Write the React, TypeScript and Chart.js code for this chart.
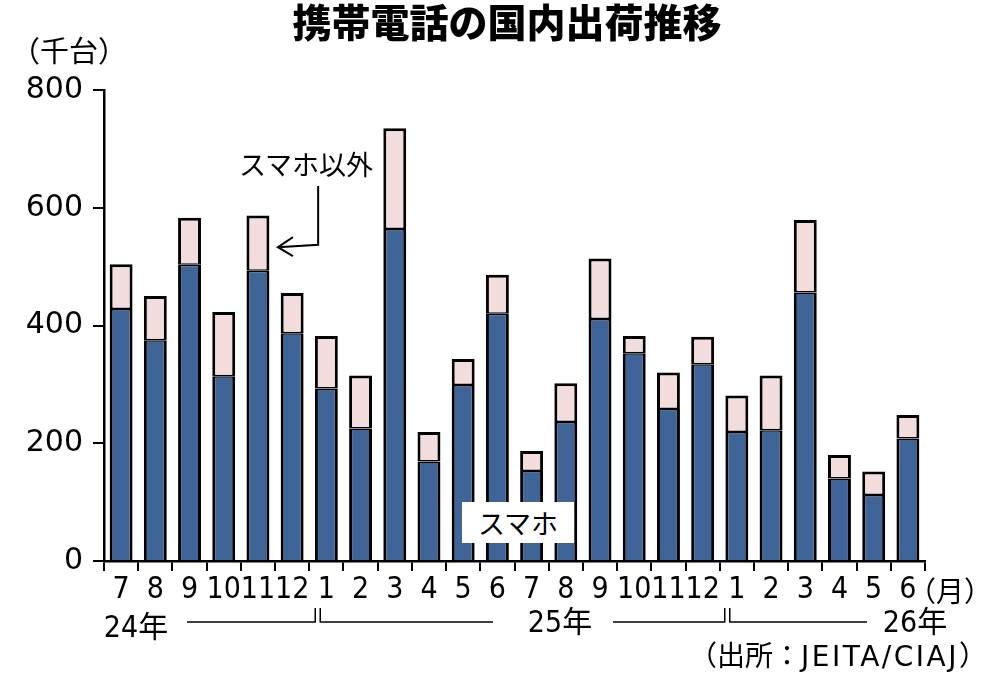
import { useEffect, useRef } from "react";
import { Chart, registerables } from "chart.js";

Chart.register(...registerables);

// months from 2024/7 to 2026/6
const months = ["7", "8", "9", "10", "11", "12", "1", "2", "3", "4", "5", "6", "7", "8", "9", "10", "11", "12", "1", "2", "3", "4", "5", "6"];
// thousand units
const smartphone = [428, 375, 503, 314, 493, 387, 293, 225, 564, 169, 299, 420, 153, 236, 411, 353, 258, 334, 219, 222, 456, 140, 112, 208];
const total = [504, 450, 583, 423, 587, 455, 382, 315, 735, 219, 343, 486, 187, 302, 514, 382, 320, 381, 281, 315, 579, 180, 152, 248];
const others = total.map((t, i) => t - smartphone[i]);
const yTicks = [0, 200, 400, 600, 800];

const FONT = "'DejaVu Sans', 'Noto Sans CJK JP', sans-serif";
const COND = "'DejaVu Sans Condensed', 'DejaVu Sans', 'Noto Sans CJK JP', sans-serif";
const JP = "'Noto Sans CJK JP', sans-serif";

// arrow from the "スマホ以外" label + year brackets under the axis
const annotations = {
  id: "annotations",
  afterDraw(chart: any) {
    const { ctx } = chart;
    const x = chart.scales.x;
    const y = chart.scales.y;
    ctx.save();
    ctx.strokeStyle = "#000";
    ctx.lineWidth = 2;

    const tipX = x.getPixelForValue(4) + 20;
    const tipY = y.getPixelForValue(533);
    const cornerX = x.getPixelForValue(5) + 26;
    const cornerY = y.getPixelForValue(537);
    const topY = y.getPixelForValue(637);
    ctx.beginPath();
    ctx.moveTo(cornerX, topY);
    ctx.lineTo(cornerX, cornerY);
    ctx.lineTo(tipX, tipY);
    ctx.stroke();
    ctx.beginPath();
    ctx.moveTo(tipX + 15, tipY - 10);
    ctx.lineTo(tipX, tipY);
    ctx.lineTo(tipX + 15, tipY + 9);
    ctx.stroke();

    ctx.lineWidth = 1.5;
    const lineY = y.bottom + 61;
    const tickTop = lineY - 14;
    const b1 = (x.getPixelForValue(5) + x.getPixelForValue(6)) / 2;
    const b2 = (x.getPixelForValue(17) + x.getPixelForValue(18)) / 2;
    const seg = (pts: number[][]) => {
      ctx.beginPath();
      ctx.moveTo(pts[0][0], pts[0][1]);
      for (let i = 1; i < pts.length; i++) ctx.lineTo(pts[i][0], pts[i][1]);
      ctx.stroke();
    };
    seg([[187, lineY], [b1 + 6, lineY], [b1 + 6, tickTop]]);
    seg([[b1 + 11, tickTop], [b1 + 11, lineY], [493, lineY]]);
    seg([[613, lineY], [b2 + 5, lineY], [b2 + 5, tickTop]]);
    seg([[b2 + 10, tickTop], [b2 + 10, lineY], [867, lineY]]);
    ctx.restore();
  },
};

type TextProps = {
  children: any;
  x: number;
  y: number;
  size: number;
  family?: string;
  weight?: number;
  anchor?: string;
};

function Text(props: TextProps) {
  const { children, x, y, size, family = FONT, weight = 400, anchor = "center" } = props;
  const tx = anchor === "center" ? "-50%" : anchor === "right" ? "-100%" : "0";
  return (
    <div
      style={{
        position: "absolute",
        left: x,
        top: y,
        transform: `translate(${tx}, -50%)`,
        fontSize: size,
        fontFamily: family,
        fontWeight: weight,
        lineHeight: 1,
        whiteSpace: "nowrap",
        color: "#000",
      }}
    >
      {children}
    </div>
  );
}

export default function App() {
  const canvasRef = useRef<HTMLCanvasElement | null>(null);
  const chartRef = useRef<Chart | null>(null);

  useEffect(() => {
    if (!canvasRef.current) return;
    if (chartRef.current) chartRef.current.destroy();

    chartRef.current = new Chart(canvasRef.current, {
      type: "bar",
      data: {
        labels: months,
        datasets: [
          {
            label: "スマホ",
            data: smartphone,
            backgroundColor: "#3f6598",
            borderColor: "#000",
            borderWidth: { top: 1.5, left: 3, right: 3, bottom: 0 },
            borderSkipped: false,
            barPercentage: 0.67,
            categoryPercentage: 1,
          },
          {
            label: "スマホ以外",
            data: others,
            backgroundColor: "#f2dcdc",
            borderColor: "#000",
            borderWidth: { top: 3, left: 3, right: 3, bottom: 1.5 },
            borderSkipped: false,
            barPercentage: 0.67,
            categoryPercentage: 1,
          },
        ],
      },
      options: {
        animation: false,
        responsive: true,
        maintainAspectRatio: false,
        layout: { padding: { top: 90, right: 75, left: 0, bottom: 0 } },
        plugins: {
          legend: { display: false },
          tooltip: { enabled: false },
        },
        scales: {
          x: {
            stacked: true,
            offset: true,
            grid: { drawOnChartArea: false, drawTicks: true, tickLength: 10, color: "#000", lineWidth: 2, offset: true },
            border: { display: true, color: "#000", width: 2.5 },
            ticks: {
              color: "#000",
              font: { family: COND, size: 30 },
              padding: 1,
              autoSkip: false,
              maxRotation: 0,
            },
            afterFit: (s: any) => {
              s.height = 130;
            },
          },
          y: {
            stacked: true,
            min: 0,
            max: 800,
            grid: { drawOnChartArea: false, drawTicks: true, tickLength: 11, color: "#000", lineWidth: 2 },
            border: { display: true, color: "#000", width: 2.5 },
            ticks: {
              color: "#000",
              font: { family: FONT, size: 30 },
              padding: 10,
            },
            afterBuildTicks: (s: any) => {
              s.ticks = yTicks.map((v) => ({ value: v }));
            },
            afterFit: (s: any) => {
              s.width = 104;
            },
          },
        },
      },
      plugins: [annotations],
    });

    return () => {
      chartRef.current?.destroy();
      chartRef.current = null;
    };
  }, []);

  return (
    <div style={{ position: "absolute", left: 0, top: 0, width: 1000, height: 691, background: "#fff", overflow: "hidden" }}>
      <canvas ref={canvasRef}></canvas>
      <Text x={507} y={20} size={39} family={JP} weight={900}>
        携帯電話の国内出荷推移
      </Text>
      <Text x={11} y={49} size={29} family={JP} anchor="left">
        （千台）
      </Text>
      <Text x={306} y={163} size={27} family={JP}>
        スマホ以外
      </Text>
      <div
        style={{
          position: "absolute",
          left: 462,
          top: 502,
          width: 112,
          height: 41,
          background: "#fff",
          display: "flex",
          alignItems: "center",
          justifyContent: "center",
          fontFamily: JP,
          fontSize: 27,
          lineHeight: 1,
        }}
      >
        スマホ
      </div>
      <Text x={136} y={627} size={30} family={COND}>
        24年
      </Text>
      <Text x={560} y={622} size={30} family={COND}>
        25年
      </Text>
      <Text x={915} y={622} size={30} family={COND}>
        26年
      </Text>
      <Text x={908} y={590} size={28} family={JP} anchor="left">
        （月）
      </Text>
      <Text x={987} y={655} size={28} family={JP} anchor="right">
        （出所：<span style={{ fontFamily: FONT, letterSpacing: 2.5 }}>JEITA/CIAJ</span>）
      </Text>
    </div>
  );
}
